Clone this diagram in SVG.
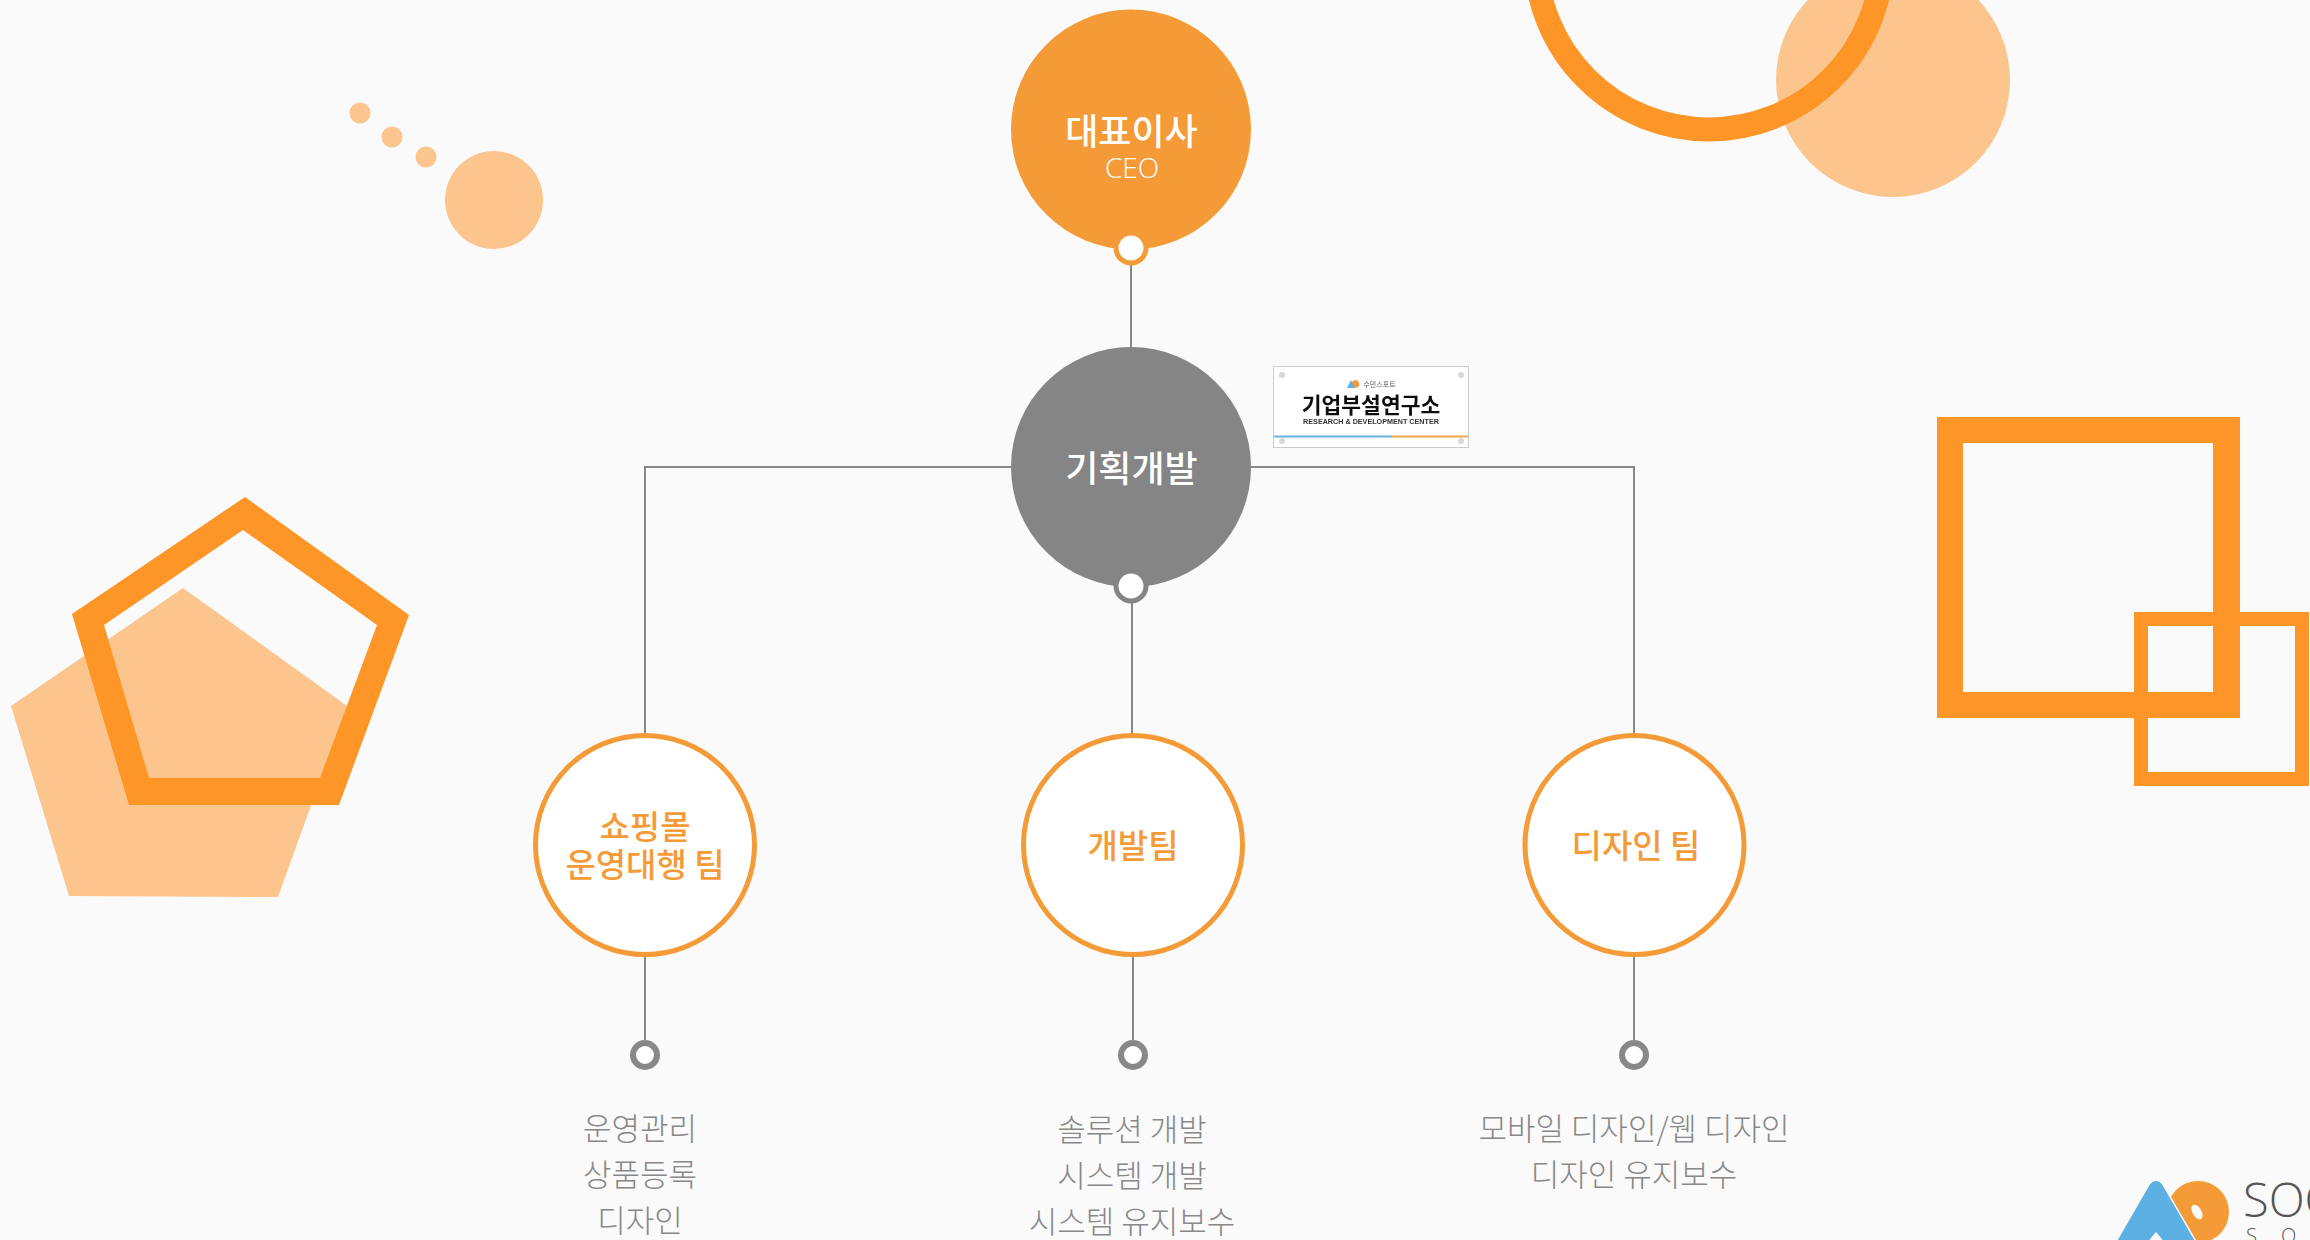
<svg xmlns="http://www.w3.org/2000/svg" width="2310" height="1240" viewBox="0 0 2310 1240">
<defs><filter id="soft" x="-2%" y="-2%" width="104%" height="104%"><feGaussianBlur stdDeviation="0.35"/></filter></defs>
<style>
.ko{font-family:"Noto Sans CJK KR","Noto Sans",sans-serif;text-anchor:middle}
.lite{fill:#fbc58d}
.deco{fill:#fd9527;fill-rule:evenodd}
.line{stroke:#888;stroke-width:2;fill:none}
.team{fill:#fff;stroke:#f49b38;stroke-width:5}
.teamt{font-size:33px;font-weight:500;fill:#f49b38}
.desc{font-size:31px;font-weight:300;fill:#888}
.end{fill:#fff;stroke:#888;stroke-width:6}
.lead{font-size:36px;font-weight:500;fill:#fff}
</style>
<rect width="2310" height="1240" fill="#fafafa"/>
<g id="decor">
<circle class="lite" cx="360" cy="113" r="10.5"/>
<circle class="lite" cx="392" cy="137" r="10.5"/>
<circle class="lite" cx="426" cy="157" r="10.5"/>
<circle class="lite" cx="494" cy="200" r="49"/>
<circle class="lite" cx="1893" cy="80" r="117"/>
<circle cx="1709" cy="-44" r="173.4" fill="none" stroke="#fd9527" stroke-width="24"/>
<polygon class="lite" points="183,588 347,706 278,897 69,896 11,706"/>
<path class="deco" d="M245 497L409 615L339 805L129 805L72 614ZM243 530L104 625L149 778L320 778L377 625Z"/>
<path class="deco" d="M1937 417H2240V718H1937ZM1963 443V692H2213V443Z"/>
<path class="deco" d="M2134 612H2309V786H2134ZM2148 626V772H2295V626Z"/>
</g>
<g id="connectors">
<path class="line" d="M1131 265V347M1132 586V733M645 733V467H1634V733M645 957V1040M1133 957V1040M1634 957V1040"/>
</g>
<g id="ceo">
<circle cx="1131" cy="129.5" r="120" fill="#f49b38"/>
<circle cx="1131" cy="248" r="17.5" fill="#f49b38"/>
<circle cx="1131" cy="248" r="12.5" fill="#fff"/>
<text class="ko lead" x="1131.500" y="144.500">대표이사</text>
<text x="1132" y="178" font-size="28" font-weight="300" fill="#fff" text-anchor="middle" font-family="Open Sans, sans-serif">CEO</text>
</g>
<g id="planning">
<circle cx="1131" cy="467" r="120" fill="#858585"/>
<circle cx="1131" cy="586" r="17.5" fill="#858585"/>
<circle cx="1131" cy="586" r="12.5" fill="#fff"/>
<text class="ko lead" x="1131.500" y="481.500">기획개발</text>
</g>
<g id="lab-sign" filter="url(#soft)">
<rect x="1273.500" y="366.500" width="195" height="81" fill="#fff" stroke="#ccc"/>
<circle cx="1282" cy="375" r="3" fill="#d8d8d8"/><circle cx="1461" cy="375" r="3" fill="#d8d8d8"/>
<circle cx="1282" cy="441" r="3" fill="#d8d8d8"/><circle cx="1461" cy="441" r="3" fill="#d8d8d8"/>
<rect x="1274" y="435.500" width="118" height="2" fill="#6cb2de"/>
<rect x="1392" y="435.500" width="76" height="2" fill="#f2a54c"/>
<circle cx="1355.500" cy="384" r="3.800" fill="#f49b38"/><path d="M1347 388L1351 380L1355 388Z" fill="#5cb0e4"/>
<text class="ko" x="1379.500" y="387" font-size="7" fill="#555">수민스포트</text>
<text class="ko" x="1371" y="412.500" font-size="21.500" font-weight="700" fill="#111">기업부설연구소</text>
<text x="1371" y="424" font-size="7.200" font-weight="700" fill="#333" text-anchor="middle" font-family="Liberation Sans, sans-serif">RESEARCH &amp; DEVELOPMENT CENTER</text>
</g>
<g id="team-shop">
<circle class="team" cx="645" cy="845" r="109.500"/>
<text class="ko teamt" x="645" y="838.500">쇼핑몰</text>
<text class="ko teamt" x="645" y="876.500">운영대행 팀</text>
<circle class="end" cx="645" cy="1055" r="12"/>
<text class="ko desc" x="640" y="1140">운영관리</text>
<text class="ko desc" x="640" y="1186">상품등록</text>
<text class="ko desc" x="640" y="1232">디자인</text>
</g>
<g id="team-dev">
<circle class="team" cx="1133" cy="845" r="109.500"/>
<text class="ko teamt" x="1133" y="858">개발팀</text>
<circle class="end" cx="1133" cy="1055" r="12"/>
<text class="ko desc" x="1132" y="1141">솔루션 개발</text>
<text class="ko desc" x="1132" y="1187">시스템 개발</text>
<text class="ko desc" x="1132" y="1233">시스템 유지보수</text>
</g>
<g id="team-design">
<circle class="team" cx="1634.500" cy="845" r="109.500"/>
<text class="ko teamt" x="1636" y="858">디자인 팀</text>
<circle class="end" cx="1634" cy="1055" r="12"/>
<text class="ko desc" x="1634" y="1140">모바일 디자인/웹 디자인</text>
<text class="ko desc" x="1634" y="1186">디자인 유지보수</text>
</g>
<g id="logo">
<circle cx="2198" cy="1212" r="31" fill="#f49b38"/>
<ellipse cx="2197" cy="1212" rx="4.500" ry="8" fill="#fafafa" transform="rotate(-30 2197 1212)"/>
<path d="M2156 1181Q2152 1181 2149 1186L2112 1250H2200L2163 1186Q2160 1181 2156 1181Z" fill="#5cb0e4" stroke="#fafafa" stroke-width="3" paint-order="stroke"/>
<path d="M2156 1232L2146 1244H2166Z" fill="#fafafa"/>
<text x="2243" y="1217" font-size="47" font-weight="300" fill="#555" font-family="Open Sans, sans-serif">SOO</text>
<text x="2246" y="1243" font-size="20" font-weight="300" letter-spacing="24" fill="#555" font-family="Open Sans, sans-serif">SO</text>
</g>
</svg>
